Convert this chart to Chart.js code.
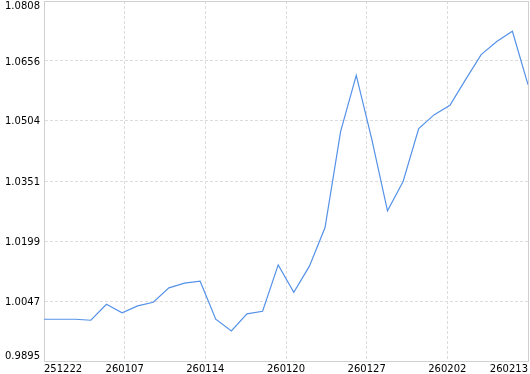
<!DOCTYPE html>
<html>
<head>
<meta charset="utf-8">
<script src="https://cdn.jsdelivr.net/npm/chart.js@4/dist/chart.umd.min.js"></script>
<style>
  html, body { margin: 0; padding: 0; background: #fff; }
</style>
</head>
<body>
<canvas id="nav-chart" width="530" height="374"></canvas>
<script>
// values, one per point, left to right
const navValues = [
  1.00009, 1.00009, 1.00009, 0.99984, 1.00390, 1.00174, 1.00347, 1.00441,
  1.00804, 1.00923, 1.00974, 1.00009, 0.99712, 1.00144, 1.00212, 1.01388,
  1.00695, 1.01355, 1.02335, 1.04773, 1.06196, 1.04563, 1.02759, 1.03504,
  1.04842, 1.05197, 1.05434, 1.06086, 1.06721, 1.07051, 1.07313, 1.05959
];
const xTickLabels = ['251222', '260107', '260114', '260120', '260127', '260202', '260213'];
const yTickLabels = ['0.9895', '1.0047', '1.0199', '1.0351', '1.0504', '1.0656', '1.0808'];

const labelFont = { family: 'DejaVu Sans', size: 10 };
const lineColor = '#5592e8';
const gridColor = '#dcdcdc';
const axisColor = '#d0d0d0';

// y labels drawn here so the first/last ones stay inside the canvas, plus the top/right frame
const frameAndLabels = {
  id: 'frameAndLabels',
  beforeDatasetsDraw(chart) {
    const { ctx, chartArea } = chart;
    const l = Math.floor(chartArea.left) + 0.5, r = Math.floor(chartArea.right) + 0.5;
    const t = Math.floor(chartArea.top) + 0.5;
    ctx.save();
    ctx.strokeStyle = axisColor;
    ctx.lineWidth = 1;
    ctx.beginPath();
    ctx.moveTo(l, t);
    ctx.lineTo(r, t);
    ctx.lineTo(r, chartArea.bottom);
    ctx.stroke();
    ctx.restore();
  },
  afterDraw(chart) {
    const { ctx, chartArea, scales: { y } } = chart;
    ctx.save();
    ctx.font = labelFont.size + 'px "' + labelFont.family + '"';
    ctx.fillStyle = '#000';
    ctx.textAlign = 'right';
    ctx.textBaseline = 'middle';
    yTickLabels.forEach(label => {
      const py = y.getPixelForValue(parseFloat(label)) + 1;
      ctx.fillText(label, chartArea.left - 4, Math.min(Math.max(py, 6), chartArea.bottom - 5));
    });
    ctx.restore();
  }
};

new Chart(document.getElementById('nav-chart').getContext('2d'), {
  type: 'line',
  data: {
    datasets: [{
      data: navValues.map((v, i) => ({ x: i, y: v })),
      borderColor: lineColor,
      borderWidth: 1.2,
      pointRadius: 0,
      tension: 0,
      fill: false
    }]
  },
  options: {
    responsive: false,
    animation: false,
    layout: { padding: { top: 1, right: 2, left: 0, bottom: 0 } },
    plugins: { legend: { display: false }, tooltip: { enabled: false } },
    scales: {
      x: {
        type: 'linear',
        min: 0,
        max: navValues.length - 1,
        afterBuildTicks: scale => {
          const step = (navValues.length - 1) / (xTickLabels.length - 1);
          scale.ticks = xTickLabels.map((_, k) => ({ value: k * step }));
        },
        afterFit: scale => {
          scale.height = 13;
          scale.paddingLeft = 0;
          scale.paddingRight = 0;
        },
        ticks: {
          align: 'inner',
          autoSkip: false,
          maxRotation: 0,
          padding: 2,
          color: '#000',
          font: labelFont,
          callback: (v, i) => xTickLabels[i]
        },
        grid: { color: gridColor, drawTicks: false },
        border: { color: axisColor, dash: [3, 2] }
      },
      y: {
        min: parseFloat(yTickLabels[0]),
        max: parseFloat(yTickLabels[yTickLabels.length - 1]),
        afterBuildTicks: scale => {
          scale.ticks = yTickLabels.map(t => ({ value: parseFloat(t) }));
        },
        afterFit: scale => {
          scale.width = 44;
          scale.paddingTop = 0;
          scale.paddingBottom = 0;
        },
        ticks: { display: false },
        grid: { color: gridColor, drawTicks: false },
        border: { color: axisColor, dash: [3, 2] }
      }
    }
  },
  plugins: [frameAndLabels]
});
</script>
</body>
</html>
